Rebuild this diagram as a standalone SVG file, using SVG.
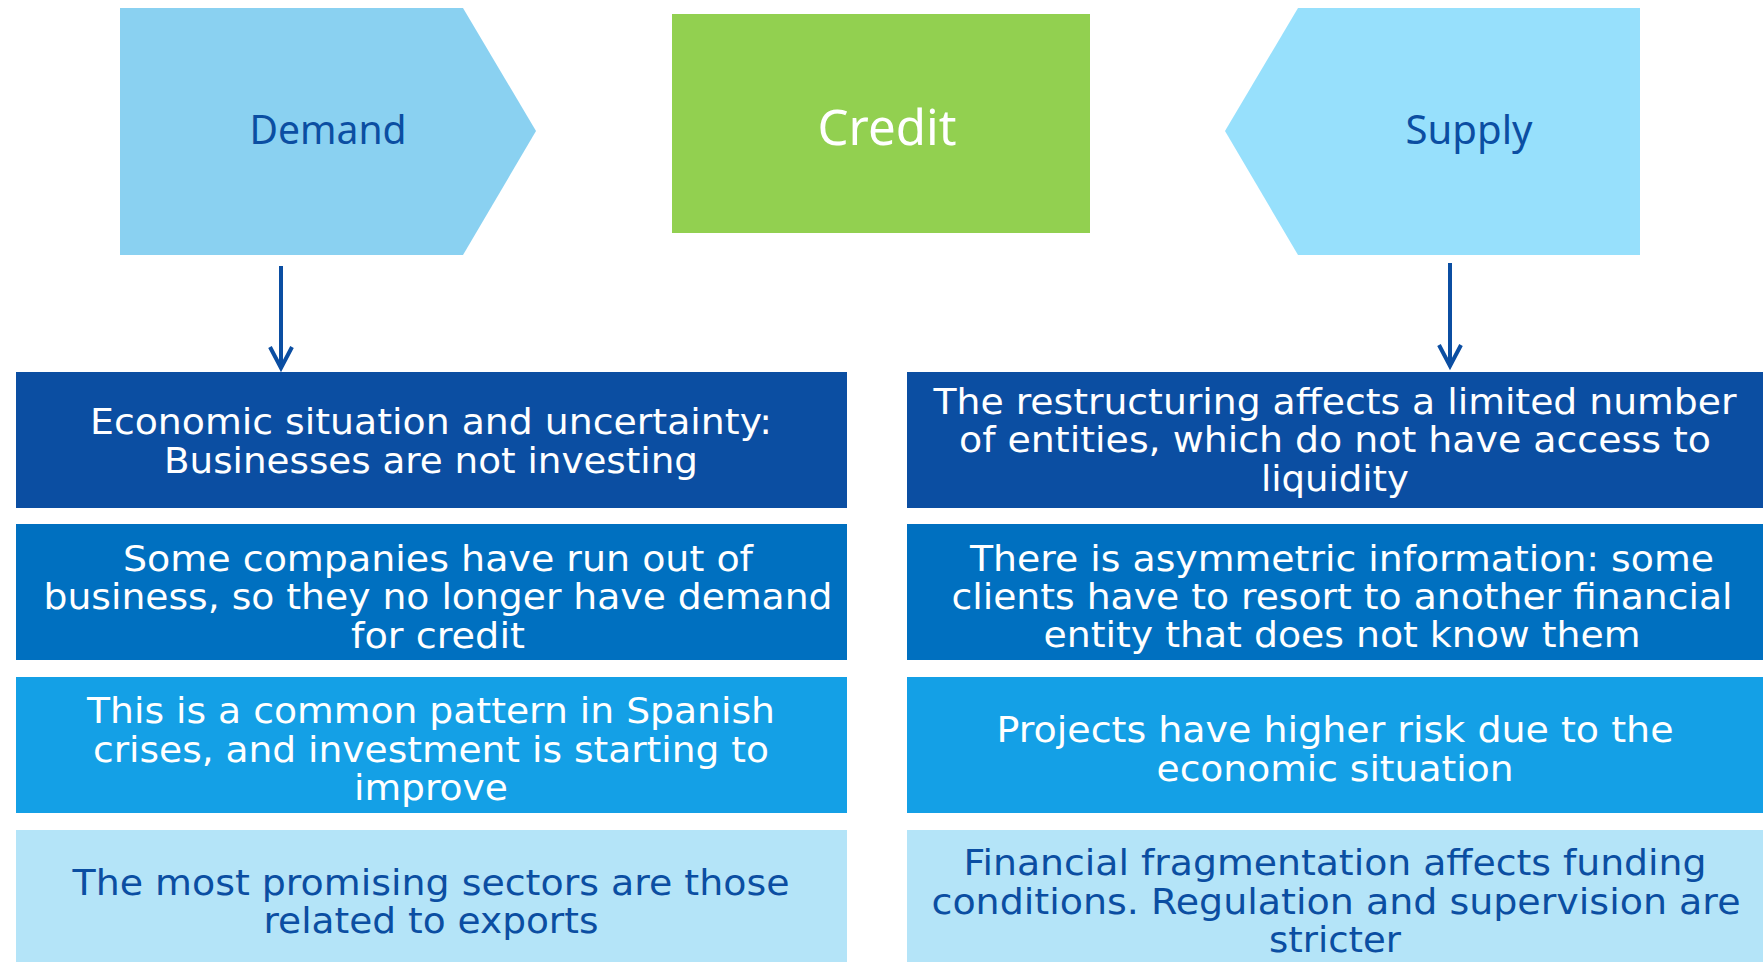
<svg xmlns="http://www.w3.org/2000/svg" width="1763" height="962" viewBox="0 0 1763 962">
  <style>
    .hdr { font-family: "Noto Sans", "Open Sans", sans-serif; text-anchor: middle; }
    .dark { fill: #0B4EA2; }
    .box { font-family: "DejaVu Sans", "Liberation Sans", sans-serif; font-size: 36px; text-anchor: middle; fill: #FFFFFF; }
    .box.ink { fill: #0B4EA2; }
    .r1 { fill: #0B4EA2; }
    .r2 { fill: #0070C0; }
    .r3 { fill: #14A0E6; }
    .r4 { fill: #B4E4F8; }
    .conn { stroke: #0B4EA2; stroke-width: 4; fill: none; }
  </style>
  <defs>
    <marker id="vhead" markerUnits="userSpaceOnUse" viewBox="-26 -16 30 32" refX="0" refY="0" markerWidth="30" markerHeight="32" orient="auto" overflow="visible">
      <path d="M-21,-11 L0,0 L-21,11" fill="none" stroke="#0B4EA2" stroke-width="4" stroke-linejoin="miter"/>
    </marker>
  </defs>

  <rect width="1763" height="962" fill="#FFFFFF"/>

  <!-- header shapes -->
  <g id="demand">
    <polygon points="120,8 463,8 536,131 463,255 120,255" fill="#8AD1F1"/>
    <text class="hdr dark" x="328" y="144" font-size="40" textLength="157" lengthAdjust="spacingAndGlyphs">Demand</text>
  </g>
  <g id="credit">
    <rect x="672" y="14" width="418" height="219" fill="#92D050"/>
    <text class="hdr" x="887" y="145" font-size="50" fill="#FFFFFF" textLength="139" lengthAdjust="spacingAndGlyphs">Credit</text>
  </g>
  <g id="supply">
    <polygon points="1225,131 1298,8 1640,8 1640,255 1298,255" fill="#97E0FC"/>
    <text class="hdr dark" x="1469" y="144" font-size="40" textLength="127" lengthAdjust="spacingAndGlyphs">Supply</text>
  </g>

  <!-- connectors -->
  <g id="connectors">
    <line class="conn" x1="281" y1="266" x2="281" y2="368" marker-end="url(#vhead)"/>
    <line class="conn" x1="1450" y1="263" x2="1450" y2="366" marker-end="url(#vhead)"/>
  </g>

  <!-- demand column -->
  <g id="d1">
    <rect class="r1" x="16" y="372" width="831" height="136"/>
    <text class="box" x="431" y="434" textLength="682" lengthAdjust="spacingAndGlyphs">Economic situation and uncertainty:</text>
    <text class="box" x="431" y="473" textLength="534" lengthAdjust="spacingAndGlyphs">Businesses are not investing</text>
  </g>
  <g id="d2">
    <rect class="r2" x="16" y="524" width="831" height="136"/>
    <text class="box" x="438" y="571" textLength="630" lengthAdjust="spacingAndGlyphs">Some companies have run out of</text>
    <text class="box" x="438" y="609" textLength="789" lengthAdjust="spacingAndGlyphs">business, so they no longer have demand</text>
    <text class="box" x="438" y="648" textLength="174" lengthAdjust="spacingAndGlyphs">for credit</text>
  </g>
  <g id="d3">
    <rect class="r3" x="16" y="677" width="831" height="136"/>
    <text class="box" x="431" y="723" textLength="688" lengthAdjust="spacingAndGlyphs">This is a common pattern in Spanish</text>
    <text class="box" x="431" y="762" textLength="676" lengthAdjust="spacingAndGlyphs">crises, and investment is starting to</text>
    <text class="box" x="431" y="800" textLength="154" lengthAdjust="spacingAndGlyphs">improve</text>
  </g>
  <g id="d4">
    <rect class="r4" x="16" y="830" width="831" height="132"/>
    <text class="box ink" x="431" y="895" textLength="717" lengthAdjust="spacingAndGlyphs">The most promising sectors are those</text>
    <text class="box ink" x="431" y="933" textLength="335" lengthAdjust="spacingAndGlyphs">related to exports</text>
  </g>

  <!-- supply column -->
  <g id="s1">
    <rect class="r1" x="907" y="372" width="856" height="136"/>
    <text class="box" x="1335" y="414" textLength="803" lengthAdjust="spacingAndGlyphs">The restructuring affects a limited number</text>
    <text class="box" x="1335" y="452" textLength="752" lengthAdjust="spacingAndGlyphs">of entities, which do not have access to</text>
    <text class="box" x="1335" y="491" textLength="148" lengthAdjust="spacingAndGlyphs">liquidity</text>
  </g>
  <g id="s2">
    <rect class="r2" x="907" y="524" width="856" height="136"/>
    <text class="box" x="1342" y="571" textLength="744" lengthAdjust="spacingAndGlyphs">There is asymmetric information: some</text>
    <text class="box" x="1342" y="609" textLength="781" lengthAdjust="spacingAndGlyphs">clients have to resort to another financial</text>
    <text class="box" x="1342" y="647" textLength="597" lengthAdjust="spacingAndGlyphs">entity that does not know them</text>
  </g>
  <g id="s3">
    <rect class="r3" x="907" y="677" width="856" height="136"/>
    <text class="box" x="1335" y="742" textLength="677" lengthAdjust="spacingAndGlyphs">Projects have higher risk due to the</text>
    <text class="box" x="1335" y="781" textLength="357" lengthAdjust="spacingAndGlyphs">economic situation</text>
  </g>
  <g id="s4">
    <rect class="r4" x="907" y="830" width="856" height="132"/>
    <text class="box ink" x="1335" y="875" textLength="743" lengthAdjust="spacingAndGlyphs">Financial fragmentation affects funding</text>
    <text class="box ink" x="1336" y="914" textLength="809" lengthAdjust="spacingAndGlyphs">conditions. Regulation and supervision are</text>
    <text class="box ink" x="1335" y="952" textLength="132" lengthAdjust="spacingAndGlyphs">stricter</text>
  </g>
</svg>
